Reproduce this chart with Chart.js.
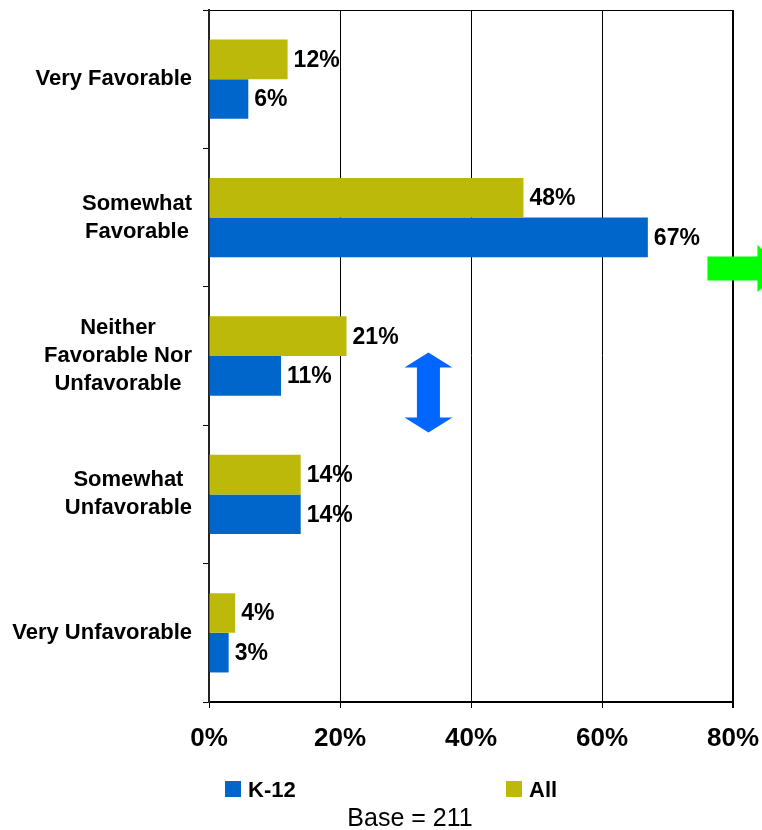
<!DOCTYPE html>
<html>
<head>
<meta charset="utf-8">
<script src="https://cdn.jsdelivr.net/npm/chart.js@4.4.0/dist/chart.umd.min.js"></script>
<style>
  html, body { margin: 0; padding: 0; background: #fff; }
  #wrap { width: 762px; height: 830px; position: relative; }
</style>
</head>
<body>
<div id="wrap"><canvas id="chart"></canvas></div>
<script>
const categories = [
    ['Very Favorable'],
    ['Somewhat', 'Favorable'],
    ['Neither', 'Favorable Nor', 'Unfavorable'],
    ['Somewhat', 'Unfavorable'],
    ['Very Unfavorable']
];
const allValues = [12, 48, 21, 14, 4];
const k12Values = [6, 67, 11, 14, 3];
const seriesNames = ['All', 'K-12'];
const xTickMax = 80;
const xTickStep = 20;
const baseNote = 'Base = 211';

const FONT = "'Liberation Sans', Arial, sans-serif";
const OLIVE = '#bcb90a';
const BLUE = '#0066cc';

// category labels: centered blocks, right edge at the axis gap
const catLabels = {
    id: 'catLabels',
    afterDraw(chart) {
        const { ctx, scales: { y } } = chart;
        ctx.save();
        ctx.font = `bold 22px ${FONT}`;
        ctx.fillStyle = '#000';
        ctx.textAlign = 'center';
        ctx.textBaseline = 'middle';
        chart.data.labels.forEach((lines, i) => {
            const w = Math.max(...lines.map(l => ctx.measureText(l).width));
            const cx = y.right - 17 - w / 2;
            const cy = y.getPixelForValue(i);
            lines.forEach((l, j) => ctx.fillText(l, cx, cy + (j - (lines.length - 1) / 2) * 28));
        });
        ctx.restore();
    }
};

const valueLabels = {
    id: 'valueLabels',
    afterDatasetsDraw(chart) {
        const { ctx } = chart;
        ctx.save();
        ctx.font = `bold 23px ${FONT}`;
        ctx.fillStyle = '#000';
        ctx.textAlign = 'left';
        ctx.textBaseline = 'middle';
        chart.data.datasets.forEach((ds, di) => {
            chart.getDatasetMeta(di).data.forEach((bar, i) => {
                ctx.fillText(ds.data[i] + '%', bar.x + 6, bar.y + 1);
            });
        });
        ctx.restore();
    }
};

// arrows, legend and base note
const extras = {
    id: 'extras',
    afterDraw(chart) {
        const { ctx, scales: { x, y } } = chart;
        ctx.save();

        // blue double arrow
        const cx = x.getPixelForValue(33.5);
        const top = y.getPixelForValue(2) - 3.5, bot = y.getPixelForValue(2) + 76.5;
        ctx.fillStyle = '#0066ff';
        ctx.beginPath();
        ctx.moveTo(cx, top);
        ctx.lineTo(cx + 24, top + 15);
        ctx.lineTo(cx + 11.5, top + 15);
        ctx.lineTo(cx + 11.5, bot - 15);
        ctx.lineTo(cx + 24, bot - 15);
        ctx.lineTo(cx, bot);
        ctx.lineTo(cx - 24, bot - 15);
        ctx.lineTo(cx - 11.5, bot - 15);
        ctx.lineTo(cx - 11.5, top + 15);
        ctx.lineTo(cx - 24, top + 15);
        ctx.closePath();
        ctx.fill();

        // green right arrow (runs off the edge)
        const gx = x.getPixelForValue(76.1);
        const gy = y.getPixelForValue(1) + 51;
        const hx = gx + 50;
        ctx.fillStyle = '#00ff00';
        ctx.beginPath();
        ctx.moveTo(gx, gy - 12);
        ctx.lineTo(hx, gy - 12);
        ctx.lineTo(hx, gy - 23.5);
        ctx.lineTo(hx + 26, gy);
        ctx.lineTo(hx, gy + 23.5);
        ctx.lineTo(hx, gy + 12);
        ctx.lineTo(gx, gy + 12);
        ctx.closePath();
        ctx.fill();

        // legend: K-12 first, then All
        const legendX = [225, 506];
        const items = chart.data.datasets.slice().reverse();
        ctx.font = `bold 22px ${FONT}`;
        ctx.textAlign = 'left';
        ctx.textBaseline = 'alphabetic';
        items.forEach((ds, i) => {
            ctx.fillStyle = ds.backgroundColor;
            ctx.fillRect(legendX[i], 781, 16, 16);
            ctx.fillStyle = '#000';
            ctx.fillText(ds.label, legendX[i] + 23, 797);
        });

        ctx.font = `25px ${FONT}`;
        ctx.textAlign = 'center';
        ctx.fillText(baseNote, 410, 826);
        ctx.restore();
    }
};

new Chart(document.getElementById('chart'), {
    type: 'bar',
    data: {
        labels: categories,
        datasets: [
            { label: seriesNames[0], data: allValues, backgroundColor: OLIVE },
            { label: seriesNames[1], data: k12Values, backgroundColor: BLUE }
        ]
    },
    options: {
        indexAxis: 'y',
        responsive: true,
        maintainAspectRatio: false,
        devicePixelRatio: 1,
        animation: false,
        datasets: { bar: { barPercentage: 1, categoryPercentage: 0.573 } },
        layout: { padding: { left: 0, top: 10, right: 29, bottom: 0 } },
        plugins: { legend: { display: false }, tooltip: { enabled: false } },
        scales: {
            x: {
                min: 0, max: xTickMax,
                afterFit: (s) => { s.height = 128; s.paddingLeft = 0; s.paddingRight = 0; },
                ticks: {
                    stepSize: xTickStep,
                    padding: 15,
                    color: '#000',
                    font: { family: FONT, size: 26, weight: 'bold' },
                    callback: (v) => v + '%'
                },
                grid: {
                    color: '#000',
                    lineWidth: (c) => c.tick && c.tick.value === xTickMax ? 2 : 1,
                    tickLength: 6,
                    tickColor: '#000'
                },
                border: { color: '#000', width: 2 }
            },
            y: {
                afterFit: (s) => { s.width = 209; s.paddingTop = 0; s.paddingBottom = 0; },
                ticks: { display: false },
                grid: {
                    offset: true,
                    drawOnChartArea: true,
                    color: (c) => c.index === 0 ? '#000' : 'rgba(0,0,0,0)',
                    tickLength: 6,
                    tickColor: '#000'
                },
                border: { color: '#222', width: 2 }
            }
        }
    },
    plugins: [catLabels, valueLabels, extras]
});
</script>
</body>
</html>
